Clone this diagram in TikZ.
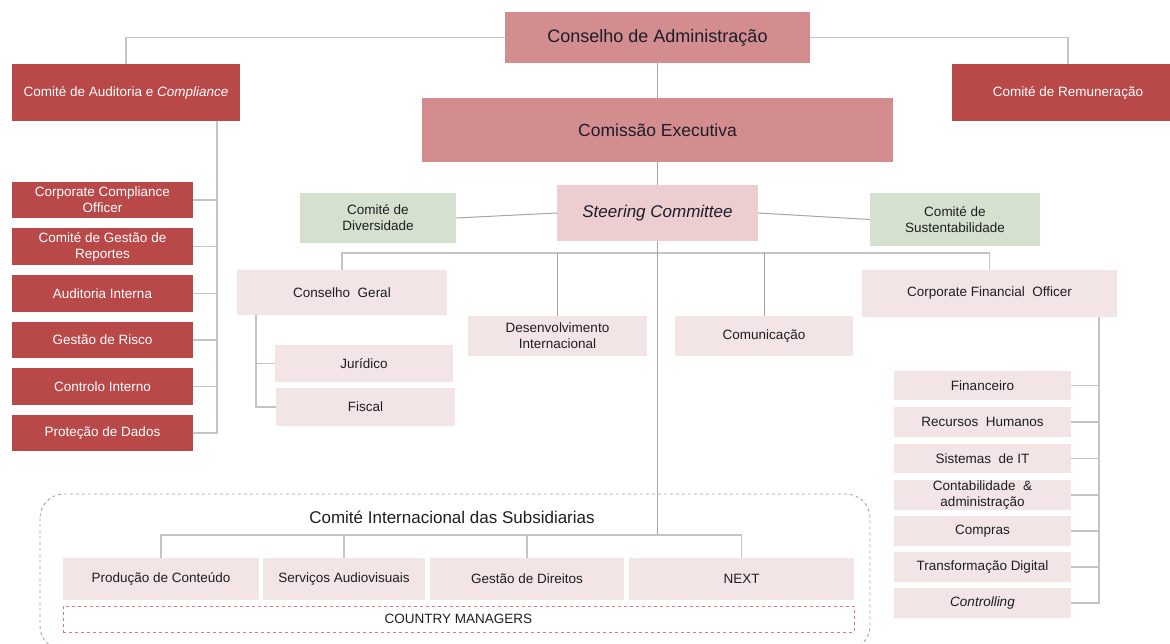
\documentclass[tikz,border=0pt]{standalone}
\usepackage{fontspec}
\setmainfont{Liberation Sans}
\usetikzlibrary{calc}
\definecolor{dred}{RGB}{185,72,72}
\definecolor{rose}{RGB}{212,141,142}
\definecolor{steerpink}{RGB}{236,206,208}
\definecolor{lpink}{RGB}{243,229,229}
\definecolor{lgreen}{RGB}{213,224,206}
\definecolor{darktxt}{RGB}{28,28,42}
\definecolor{txt}{RGB}{30,30,30}
\definecolor{lgray}{RGB}{196,196,196}
\definecolor{mgray}{RGB}{165,165,165}
\definecolor{dashred}{RGB}{225,120,120}
\newcommand\mybox[7]{\node[#6, minimum width={#4-#2}, minimum height={#5-#3}] (#1) at ({(#2+#4)/2},{(#3+#5)/2}) {#7};}
\tikzset{
  box/.style={inner sep=0pt, outer sep=0pt, align=center, font=\fontsize{13.5}{16}\selectfont, text=txt},
  redbox/.style={box, fill=dred, text=white},
  bigbox/.style={box, fill=rose, text=darktxt, font=\fontsize{17.5}{20}\selectfont},
  steerbox/.style={box, fill=steerpink, text=darktxt, font=\fontsize{17}{20}\selectfont\itshape},
  greenbox/.style={box, fill=lgreen},
  pinkbox/.style={box, fill=lpink},
  conn/.style={draw=lgray, line width=1.1pt},
  connd/.style={draw=mgray, line width=1pt},
}
\begin{document}
\begin{tikzpicture}[x=1pt,y=-1pt]
\useasboundingbox (0,0) rectangle (1170,644);
% top level
\mybox{cons}{505}{12}{810}{63}{bigbox, font=\fontsize{18}{20}\selectfont}{Conselho de Administração}
\mybox{aud}{12}{64}{240}{121}{redbox}{Comité de Auditoria e \textit{Compliance}}
\mybox{rem}{952}{64}{1184}{121}{redbox}{Comité de Remuneração}
\mybox{com}{422}{98}{893}{162}{bigbox}{Comissão Executiva}
\mybox{steer}{557}{185}{758}{241}{steerbox}{Steering Committee}
\mybox{div}{300}{193}{456}{243}{greenbox}{Comité de\\Diversidade}
\mybox{sus}{870}{193}{1040}{246}{greenbox}{Comité de\\Sustentabilidade}
% left column
\mybox{cco}{12}{182}{193}{218}{redbox}{Corporate Compliance\\Officer}
\mybox{cgr}{12}{228}{193}{265}{redbox}{Comité de Gestão de\\Reportes}
\mybox{ain}{12}{275}{193}{312}{redbox}{Auditoria Interna}
\mybox{gri}{12}{322}{193}{358}{redbox}{Gestão de Risco}
\mybox{cin}{12}{368}{193}{405}{redbox}{Controlo Interno}
\mybox{pdd}{12}{415}{193}{451}{redbox}{Proteção de Dados}
% steering children
\mybox{cg}{237}{270}{447}{315}{pinkbox}{Conselho \ Geral}
\mybox{dev}{468}{316}{647}{356}{pinkbox}{Desenvolvimento\\Internacional}
\mybox{cmn}{675}{316}{853}{356}{pinkbox}{Comunicação}
\mybox{cfo}{862}{270}{1117}{317}{pinkbox}{Corporate Financial \ Officer}
\mybox{jur}{275}{345}{453}{382}{pinkbox}{Jurídico}
\mybox{fis}{276}{388}{455}{426}{pinkbox}{Fiscal}
% CFO column
\mybox{fin}{894}{371}{1071}{400}{pinkbox}{Financeiro}
\mybox{rh}{894}{407}{1071}{437}{pinkbox}{Recursos \ Humanos}
\mybox{sit}{894}{444}{1071}{473}{pinkbox}{Sistemas \ de IT}
\mybox{cad}{894}{480}{1071}{510}{pinkbox}{Contabilidade \ \&\\administração}
\mybox{cpr}{894}{516}{1071}{546}{pinkbox}{Compras}
\mybox{tdg}{894}{552}{1071}{582}{pinkbox}{Transformação Digital}
\mybox{ctl}{894}{588}{1071}{618}{pinkbox}{\itshape Controlling}
% subsidiaries
\draw[mgray, dashed, line width=0.9pt, rounded corners=24] (40,494) rectangle (870,650);
\node[box, font=\fontsize{17}{20}\selectfont] (sub) at (452,517) {Comité Internacional das Subsidiarias};
\mybox{prod}{63}{558}{259}{600}{pinkbox}{Produção de Conteúdo}
\mybox{serv}{263}{558}{425}{600}{pinkbox}{Serviços Audiovisuais}
\mybox{gest}{430}{558}{624}{600}{pinkbox}{Gestão de Direitos}
\mybox{next}{629}{558}{854}{600}{pinkbox}{NEXT}
\mybox{cm}{63}{606}{854}{632}{box, draw=dashred, dashed, line width=0.6pt}{COUNTRY MANAGERS}
% coordinates
\coordinate (sbus) at (657.5,253);
\coordinate (subbus) at (657.5,535);
\coordinate (lsp) at (217,121);
\coordinate (rsp) at (1099,317);
\coordinate (cgsp) at (256,315);
% connectors
\draw[conn] (cons.west) -| (aud.north);
\draw[conn] (cons.east) -| (rem.north);
\draw[connd] (cons.south) -- (com.north);
\draw[connd] (com.south) -- (steer.north);
\draw[connd] (steer.west) -- (div.east);
\draw[connd] (steer.east) -- (sus.west);
\draw[conn] (cg.north) |- (sbus) -| (cfo.north);
\draw[connd] (dev.north) -- (dev.north |- sbus);
\draw[connd] (cmn.north) -- (cmn.north |- sbus);
\draw[connd] (steer.south) -- (steer.south |- subbus);
\draw[conn] (cgsp) |- (fis.west);
\draw[conn] (cgsp) |- (jur.west);
\draw[conn] (lsp) |- (pdd.east);
\foreach \n in {cco,cgr,ain,gri,cin} \draw[conn] (\n.east) -- (\n.east -| lsp);
\draw[conn] (rsp) |- (ctl.east);
\foreach \n in {fin,rh,sit,cad,cpr,tdg} \draw[conn] (\n.east) -- (\n.east -| rsp);
\draw[conn] (prod.north) |- (subbus) -| (next.north);
\draw[conn] (serv.north) -- (serv.north |- subbus);
\draw[conn] (gest.north) -- (gest.north |- subbus);
\end{tikzpicture}
\end{document}
